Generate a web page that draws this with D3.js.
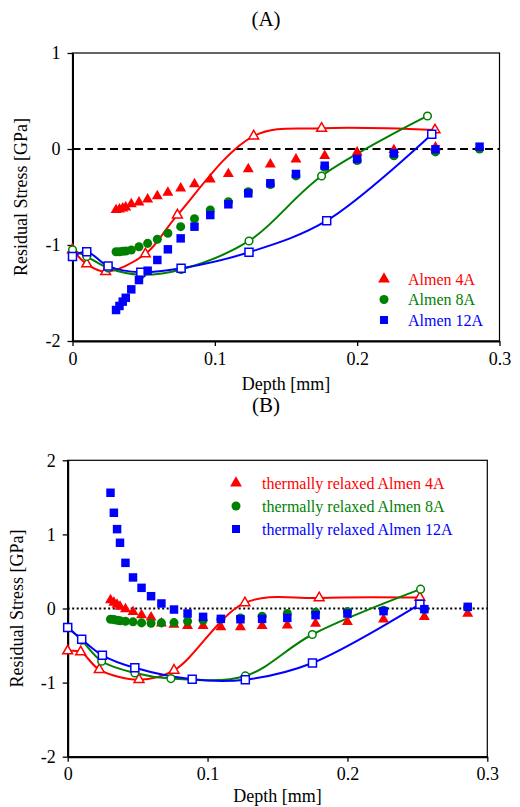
<!DOCTYPE html>
<html><head><meta charset="utf-8">
<script src="https://cdn.jsdelivr.net/npm/d3@7/dist/d3.min.js"></script>
<style>body{margin:0;background:#fff}svg{display:block}svg text{font-family:"Liberation Serif","Times New Roman",serif !important}</style>
</head><body>
<script>
// ---------- data ----------
const depthMeas = [0.0306,0.0330,0.0353,0.0374,0.0413,0.0467,0.0528,0.0596,0.0670,0.0760,0.0857,0.0968,0.1095,0.1235,0.1390,0.1570,0.1772,0.2000,0.2258,0.2550,0.2860];

// Panel A (as peened), measured points
const a4  = [-0.635,-0.628,-0.618,-0.608,-0.573,-0.556,-0.524,-0.490,-0.455,-0.410,-0.365,-0.316,-0.260,-0.210,-0.160,-0.108,-0.070,-0.035,-0.010,0.018,null];
const a8  = [-1.070,-1.070,-1.065,-1.062,-1.052,-1.018,-0.983,-0.940,-0.878,-0.809,-0.726,-0.635,-0.549,-0.445,-0.370,-0.280,-0.190,-0.120,-0.070,-0.030,0.000];
const a12 = [-1.677,-1.635,-1.590,-1.550,-1.462,-1.365,-1.268,-1.156,-1.045,-0.931,-0.809,-0.688,-0.576,-0.462,-0.357,-0.260,-0.174,-0.104,-0.045,-0.003,0.024];

// Panel A fitted curves
const fitA4d  = [0,0.0100,0.0233,0.0512,0.0737,0.1273,0.1750,0.2547];
const fitA4v  = [-1.05,-1.198,-1.278,-1.094,-0.688,0.135,0.215,0.198];
const fitA8d  = [0,0.0100,0.0250,0.0480,0.0763,0.1240,0.1750,0.2494];
const fitA8v  = [-1.05,-1.12,-1.24,-1.31,-1.255,-0.958,-0.281,0.344];
const fitA12d = [0,0.0100,0.0250,0.0480,0.0763,0.1240,0.1786,0.2524];
const fitA12v = [-1.12,-1.07,-1.22,-1.285,-1.243,-1.076,-0.747,0.153];

// Panel B (thermally relaxed), measured points
const b4  = [0.112,0.081,0.054,0.025,-0.009,-0.046,-0.090,-0.118,-0.200,-0.216,-0.235,-0.235,-0.250,-0.250,-0.235,-0.226,-0.203,-0.180,-0.145,-0.113,-0.068];
const b8  = [-0.145,-0.150,-0.158,-0.165,-0.172,-0.180,-0.194,-0.199,-0.194,-0.190,-0.172,-0.160,-0.145,-0.127,-0.104,-0.068,-0.050,-0.040,-0.025,-0.010,0.015];
const b12 = [1.562,1.292,1.071,0.887,0.616,0.419,0.279,0.166,0.068,-0.014,-0.068,-0.113,-0.140,-0.145,-0.140,-0.127,-0.090,-0.068,-0.036,-0.009,0.022];

// Panel B fitted curves
const fitB4d  = [0,0.0093,0.0226,0.0510,0.0760,0.1267,0.1798,0.2518];
const fitB4v  = [-0.573,-0.586,-0.824,-0.960,-0.834,0.076,0.143,0.149];
const fitB8d  = [0,0.0100,0.0243,0.0480,0.0738,0.1270,0.1749,0.2523];
const fitB8v  = [-0.257,-0.428,-0.712,-0.870,-0.946,-0.910,-0.351,0.261];
const fitB12d = [0,0.0100,0.0248,0.0480,0.0890,0.1270,0.1750,0.2518];
const fitB12v = [-0.257,-0.415,-0.631,-0.800,-0.955,-0.960,-0.735,0.058];

const xTicks = [0,0.1,0.2,0.3];
const xTickLabels = ["0","0.1","0.2","0.3"];
const yTicksA = [-2,-1,0,1];
const yTicksB = [-2,-1,0,1,2];
const legendA = ["Almen 4A","Almen 8A","Almen 12A"];
const legendB = ["thermally relaxed Almen 4A","thermally relaxed Almen 8A","thermally relaxed Almen 12A"];
const titles = ["(A)","(B)"];
const xLabel = "Depth [mm]";
const yLabel = "Residual Stress [GPa]";

// ---------- drawing ----------
const FONT = "'Liberation Serif','Times New Roman',serif";
const colors = ["#ff0000","#008000","#0000ff"];
const shapes = [d3.symbolTriangle, d3.symbolCircle, d3.symbolSquare];
const filledSize = [52, 64, 72];
const openSize = [42, 46, 64];

const svg = d3.select("body").append("svg").attr("width",520).attr("height",807);

function panel(cfg){
  const x = d3.scaleLinear().domain([0,0.3]).range([cfg.left,cfg.right]);
  const y = d3.scaleLinear().domain(cfg.yDomain).range([cfg.bottom,cfg.top]);
  const g = svg.append("g");

  g.append("text").attr("x",266).attr("y",cfg.titleY).attr("text-anchor","middle")
    .style("font-family",FONT).style("font-size","21px").text(cfg.title);

  // frame (top & right)
  g.append("rect").attr("x",cfg.left).attr("y",cfg.top).attr("width",cfg.right-cfg.left)
    .attr("height",cfg.bottom-cfg.top).attr("fill","none").attr("stroke","#000").attr("stroke-width",1.2);

  // zero line
  g.append("line").attr("x1",x(0)).attr("x2",x(0.3)).attr("y1",y(0)).attr("y2",y(0))
    .attr("stroke","#000").attr("stroke-width",2).attr("stroke-dasharray",cfg.dash);

  const ax = g.append("g").attr("transform",`translate(0,${cfg.bottom})`)
    .call(d3.axisBottom(x).tickValues(xTicks).tickFormat((d,i)=>xTickLabels[i]).tickSize(5).tickSizeOuter(0).tickPadding(6));
  const ay = g.append("g").attr("transform",`translate(${cfg.left},0)`)
    .call(d3.axisLeft(y).tickValues(cfg.yTicks).tickFormat(d=>String(d)).tickSize(5).tickSizeOuter(0).tickPadding(7));
  [ax,ay].forEach(a=>{
    a.attr("font-family",null).attr("font-size",null);
    a.select(".domain").attr("stroke","#000").attr("stroke-width",2);
    a.selectAll(".tick line").attr("stroke","#000").attr("stroke-width",1.3);
    a.selectAll(".tick text").style("font-size","18px").style("font-family",FONT).attr("fill","#000");
  });

  g.append("text").attr("x",(cfg.left+cfg.right)/2).attr("y",cfg.xLabelY).attr("text-anchor","middle")
    .style("font-family",FONT).style("font-size","18px").text(xLabel);
  g.append("text").attr("transform",`translate(${cfg.yLabelX},${(cfg.top+cfg.bottom)/2}) rotate(-90)`)
    .attr("text-anchor","middle").style("font-family",FONT).style("font-size","18px").text(yLabel);

  // fitted curves
  const line = d3.line().x(d=>x(d[0])).y(d=>y(d[1])).curve(d3.curveCatmullRom.alpha(0.5));
  cfg.fits.forEach((f,i)=>{
    const pts = f[0].map((d,k)=>[d,f[1][k]]);
    g.append("path").attr("d",line(pts)).attr("fill","none").attr("stroke",colors[i]).attr("stroke-width",2);
  });
  cfg.fits.forEach((f,i)=>{
    const pts = f[0].map((d,k)=>[d,f[1][k]]);
    g.selectAll(null).data(pts).enter().append("path")
      .attr("d",d3.symbol().type(shapes[i]).size(openSize[i]))
      .attr("transform",d=>`translate(${x(d[0])},${y(d[1])})`)
      .attr("fill","#fff").attr("stroke",colors[i]).attr("stroke-width",1.5);
  });
  // measured points
  cfg.series.forEach((s,i)=>{
    const pts = depthMeas.map((d,k)=>[d,s[k]]).filter(p=>p[1]!==null);
    g.selectAll(null).data(pts).enter().append("path")
      .attr("d",d3.symbol().type(shapes[i]).size(filledSize[i]))
      .attr("transform",d=>`translate(${x(d[0])},${y(d[1])})`)
      .attr("fill",colors[i]);
  });

  // legend
  cfg.legend.forEach((t,i)=>{
    const ly = cfg.legY + i*cfg.legDy;
    g.append("path").attr("d",d3.symbol().type(shapes[i]).size([60,64,64][i]))
      .attr("transform",`translate(${cfg.legX},${ly})`).attr("fill",colors[i]);
    g.append("text").attr("x",cfg.legTX).attr("y",ly+5.5).style("font-family",FONT).style("font-size","16px")
      .attr("fill",colors[i]).text(t);
  });
}

panel({title:titles[0],titleY:26,left:72.5,right:499.5,top:53,bottom:341,yDomain:[-2,1],yTicks:yTicksA,
  dash:"8,4.5",xLabelY:390,yLabelX:27,
  fits:[[fitA4d,fitA4v],[fitA8d,fitA8v],[fitA12d,fitA12v]],series:[a4,a8,a12],
  legend:legendA,legX:384,legTX:408,legY:279,legDy:20.5});

panel({title:titles[1],titleY:412,left:67.7,right:487.3,top:460.3,bottom:756.7,yDomain:[-2,2],yTicks:yTicksB,
  dash:"2,2.5",xLabelY:802,yLabelX:23,
  fits:[[fitB4d,fitB4v],[fitB8d,fitB8v],[fitB12d,fitB12v]],series:[b4,b8,b12],
  legend:legendB,legX:236,legTX:262,legY:483,legDy:23});
</script>
</body></html>
